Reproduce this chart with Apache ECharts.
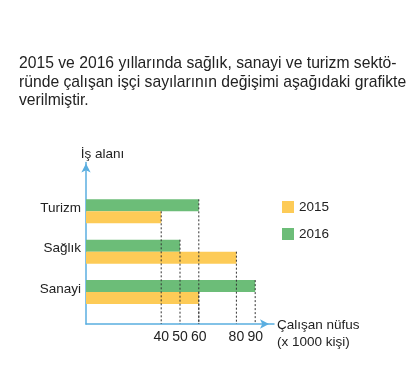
<!DOCTYPE html>
<html>
<head>
<meta charset="utf-8">
<script src="https://cdn.jsdelivr.net/npm/echarts@6/dist/echarts.min.js"></script>
<style>html,body{margin:0;padding:0;background:#fff;}#c{width:418px;height:373px;}</style>
</head>
<body>
<div id="c"></div>
<script>
// ---- data ----
var categories = ['', 'Sanayi', 'Sağlık', 'Turizm', ''];
var values2015 = ['-', 60, 80, 40, '-'];
var values2016 = ['-', 90, 50, 60, '-'];
var xTickLabels = [40, 50, 60, 80, 90];
var seriesNames = ['2015', '2016'];
var introText = '2015 ve 2016 yıllarında sağlık, sanayi ve turizm sektö-\nründe çalışan işçi sayılarının değişimi aşağıdaki grafikte\nverilmiştir.';

// ---- style ----
var FONT = 'Liberation Sans, Arial, sans-serif';
var GREEN = '#6cbd78';
var YELLOW = '#fdcb57';
var AXIS = '#5aaee0';
var TXT = '#222';
var BAR_W = 12, SPACER_W = 17;

// dotted guide lines: from each bar's upper edge down to the x axis
var guides = [];
for (var i = 0; i < categories.length; i++) {
  if (values2016[i] !== '-') guides.push([values2016[i], i, 0]);
  if (values2015[i] !== '-') guides.push([values2015[i], i, 1]);
}

var chart = echarts.init(document.getElementById('c'), null, {renderer: 'canvas'});
chart.setOption({
  animation: false,
  textStyle: {fontFamily: FONT},
  title: {
    text: introText,
    left: 19, top: 54.5, padding: 0,
    textStyle: {fontFamily: FONT, fontSize: 15.7, fontWeight: 'normal', color: TXT, lineHeight: 18.5}
  },
  legend: {
    data: seriesNames,
    orient: 'vertical', left: 282, top: 200, padding: 0,
    itemWidth: 12, itemHeight: 12, itemGap: 13,
    icon: 'rect',
    textStyle: {fontFamily: FONT, fontSize: 13.5, color: TXT}
  },
  grid: {left: 86, right: 144, top: 162.4, bottom: 49, containLabel: false},
  xAxis: {
    type: 'value', min: 0, max: 100,
    name: 'Çalışan nüfus\n(x 1000 kişi)',
    nameLocation: 'end', nameGap: 3, nameMoveOverlap: false,
    nameTextStyle: {fontFamily: FONT, fontSize: 13.5, color: TXT, lineHeight: 17, align: 'left', verticalAlign: 'top', padding: [-7.5, 0, 0, 0]},
    splitLine: {show: false},
    axisTick: {show: false},
    axisLine: {show: true, lineStyle: {color: AXIS, width: 1.5}, symbol: ['none', 'arrow'], symbolSize: [7, 9], symbolOffset: [0, -5]},
    axisLabel: {customValues: xTickLabels, fontFamily: FONT, fontSize: 14, color: TXT, margin: 6}
  },
  yAxis: {
    type: 'category', data: categories, boundaryGap: false,
    name: 'İş alanı', nameLocation: 'end', nameGap: 8, nameMoveOverlap: false,
    nameTextStyle: {fontFamily: FONT, fontSize: 13.5, color: TXT, align: 'center', verticalAlign: 'middle', padding: [0, 0, 0, 33]},
    axisTick: {show: false},
    splitLine: {show: false},
    axisLine: {show: true, lineStyle: {color: AXIS, width: 1.5}, symbol: ['none', 'arrow'], symbolSize: [7, 9], symbolOffset: [0, -1]},
    axisLabel: {fontFamily: FONT, fontSize: 13.5, color: TXT, margin: 5, verticalAlign: 'top', lineHeight: 11}
  },
  series: [
    {name: 'spacer', type: 'bar', data: categories.map(function(){return '-';}), barWidth: SPACER_W, barGap: 0, silent: true},
    {name: '2016', type: 'bar', data: values2016, barWidth: BAR_W, barGap: 0, itemStyle: {color: GREEN}},
    {name: '2015', type: 'bar', data: values2015, barWidth: BAR_W, barGap: 0, itemStyle: {color: YELLOW}},
    {
      name: 'guides', type: 'custom', z: 5, silent: true,
      data: guides,
      renderItem: function (params, api) {
        var v = api.value(0), idx = api.value(1), which = api.value(2);
        var p = api.coord([v, idx]);
        var base = api.coord([v, 0]);
        var groupTop = p[1] - (SPACER_W + 2 * BAR_W) / 2;
        var top = groupTop + SPACER_W + which * BAR_W;
        return {
          type: 'line',
          shape: {x1: p[0], y1: top, x2: p[0], y2: base[1]},
          style: {stroke: '#333', lineWidth: 1, lineDash: [2, 2]}
        };
      }
    }
  ]
});
</script>
</body>
</html>
